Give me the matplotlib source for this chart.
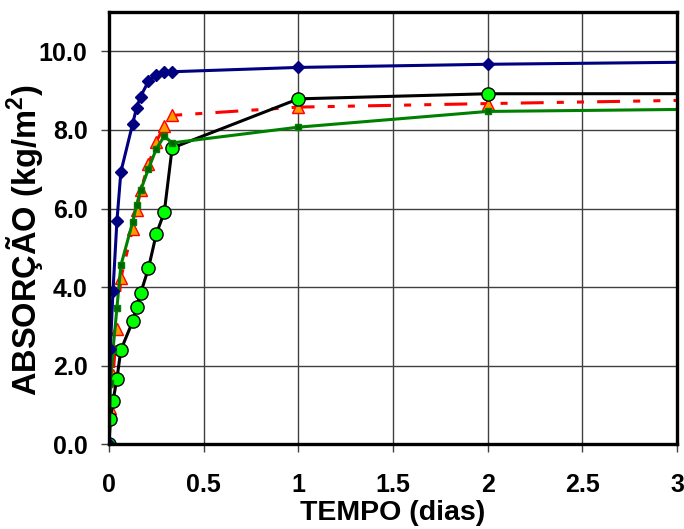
import numpy as np
import matplotlib
matplotlib.use("Agg")
import matplotlib.pyplot as plt

plt.rcParams.update({
    "font.family": ["Liberation Sans", "DejaVu Sans"],
    "font.weight": "bold",
    "mathtext.default": "regular",
})

# tempos de leitura (dias); o ultimo ponto fica fora da janela (linha cortada na borda)
t = [0, 0.0069, 0.0208, 0.0417, 0.0625, 0.125, 0.1458, 0.1667, 0.2083,
     0.25, 0.2917, 0.3333, 1, 2, 7]

abs_azul = [0, 2.43, 3.89, 5.68, 6.93, 8.16, 8.57, 8.85, 9.24,
            9.39, 9.48, 9.48, 9.59, 9.67, 9.92]
abs_preto = [0, 0.65, 1.10, 1.67, 2.40, 3.13, 3.49, 3.84, 4.48,
             5.36, 5.90, 7.54, 8.79, 8.92, 8.93]
abs_laranja = [0, 0.92, 1.76, 2.93, 4.23, 5.49, 5.97, 6.46, 7.12,
               7.70, 8.10, 8.37, 8.58, 8.67, 9.07]
abs_verde = [0, 1.57, 2.39, 3.47, 4.55, 5.66, 6.10, 6.46, 7.01,
             7.52, 7.84, 7.67, 8.07, 8.47, 8.72]

x_ticks = [0, 0.5, 1, 1.5, 2, 2.5, 3]
x_labels = ["0", "0.5", "1", "1.5", "2", "2.5", "3"]
y_ticks = [0, 2, 4, 6, 8, 10]
y_labels = ["0.0", "2.0", "4.0", "6.0", "8.0", "10.0"]

fig = plt.figure(figsize=(6.84, 5.29), dpi=100)
ax = fig.add_axes([0.1594, 0.1601, 0.9898 - 0.1594, 0.9773 - 0.1601])

ax.plot(t, abs_laranja, color="red", lw=2.2, dashes=(7.5, 4.3, 2.3, 4.3, 2.3, 4.3),
        marker="^", ms=9, mfc="#ff9900", mec="red", mew=1.0, zorder=3)
ax.plot(t, abs_preto, color="black", lw=2.2,
        marker="o", ms=9.5, mfc="#00ff00", mec="black", mew=1.0, zorder=4)
ax.plot(t, abs_verde, color="#008000", lw=2.2,
        marker="s", ms=4.5, mfc="#006400", mec="#008000", zorder=5)
ax.plot(t, abs_azul, color="#000080", lw=2.2,
        marker="D", ms=6.5, mfc="#000080", mec="#000080", zorder=6)

ax.set_xlim(0, 3)
ax.set_ylim(0, 11)
ax.set_xticks(x_ticks)
ax.set_xticklabels(x_labels)
ax.set_yticks(y_ticks)
ax.set_yticklabels(y_labels)
ax.grid(True, color="#404040", lw=1.0)
ax.set_axisbelow(True)

ax.tick_params(axis="x", direction="out", length=6, width=1, color="#404040",
               pad=15, labelsize=18)
ax.tick_params(axis="y", direction="out", length=6, width=1, color="#404040",
               pad=9.5, labelsize=18)
for sp in ax.spines.values():
    sp.set_linewidth(2.4)
    sp.set_color("black")
    sp.set_zorder(10)

ax.set_xlabel("TEMPO (dias)", fontsize=20.5, fontweight="bold", labelpad=2)
ax.set_ylabel("ABSORÇÃO (kg/m$^2$)", fontsize=23.5, fontweight="bold")
ax.yaxis.set_label_coords(-0.112, 0.4726)

fig.savefig("out.png", dpi=100)
